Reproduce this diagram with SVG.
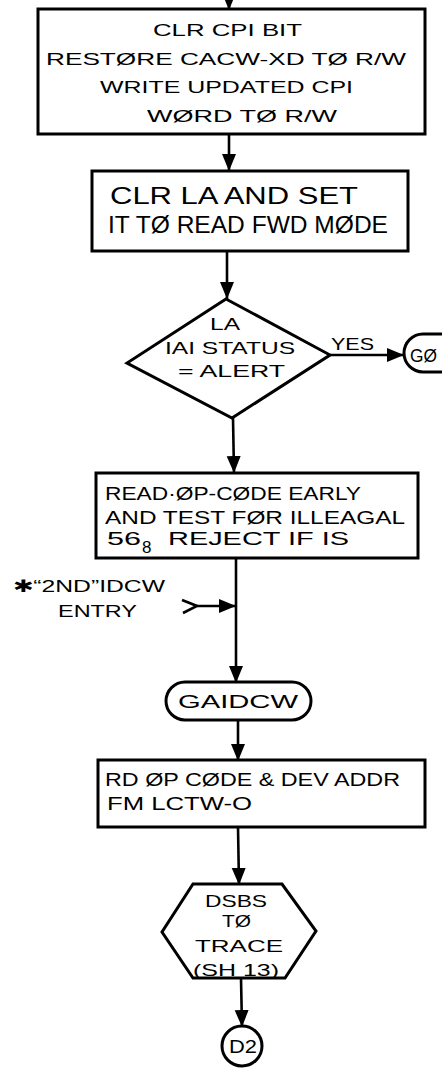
<svg xmlns="http://www.w3.org/2000/svg" width="442" height="1078" viewBox="0 0 442 1078">
<defs>
<marker id="ah" markerUnits="userSpaceOnUse" markerWidth="18" markerHeight="16" refX="17" refY="7" orient="auto">
<path d="M0,0 L17,7 L0,14 z" fill="#000"/>
</marker>
<style>
.box{fill:#fff;stroke:#000;stroke-width:3}
.ln{fill:none;stroke:#000;stroke-width:2.6}
text{font-family:"Liberation Sans",Arial,sans-serif;fill:#000}
.t{font-size:17px}
.tb{font-size:23px}
.tm{font-size:19px}
</style>
</defs>
<rect width="442" height="1078" fill="#fff"/>
<g id="connectors">
<path class="ln" d="M229,-10 L229,10" marker-end="url(#ah)"/>
<path class="ln" d="M229,134 L229,171" marker-end="url(#ah)"/>
<path class="ln" d="M227,251 L227,299" marker-end="url(#ah)"/>
<path class="ln" d="M330,355 L404,355" marker-end="url(#ah)"/>
<path class="ln" d="M233,418 L234,473" marker-end="url(#ah)"/>
<path class="ln" d="M236,558 L236,683" marker-end="url(#ah)"/>
<path class="ln" d="M182,600 L197,606 L183,613"/>
<path class="ln" d="M197,606 L236,606" marker-end="url(#ah)"/>
<path class="ln" d="M238,720 L238,761" marker-end="url(#ah)"/>
<path class="ln" d="M238,827 L239,885" marker-end="url(#ah)"/>
<path class="ln" d="M241,978 L242,1027" marker-end="url(#ah)"/>
<text class="t" x="331" y="350" textLength="43" lengthAdjust="spacingAndGlyphs">YES</text>
</g>
<g id="n1">
<rect class="box" x="38" y="9" width="387" height="125"/>
<text class="t" x="153" y="36" textLength="149" lengthAdjust="spacingAndGlyphs">CLR CPI BIT</text>
<text class="t" x="46" y="65" textLength="360" lengthAdjust="spacingAndGlyphs">RESTØRE CACW-XD TØ R/W</text>
<text class="t" x="100" y="93" textLength="253" lengthAdjust="spacingAndGlyphs">WRITE UPDATED CPI</text>
<text class="t" x="147" y="122" textLength="190" lengthAdjust="spacingAndGlyphs">WØRD TØ R/W</text>
</g>
<g id="n2">
<rect class="box" x="92" y="171" width="316" height="80"/>
<text class="tb" x="110" y="204" textLength="248" lengthAdjust="spacingAndGlyphs">CLR LA AND SET</text>
<text class="tb" x="108" y="233" textLength="280" lengthAdjust="spacingAndGlyphs">IT TØ READ FWD MØDE</text>
</g>
<g id="n3">
<polygon class="box" points="226,299 330,355 232,418 127,363"/>
<text class="t" x="210" y="330" textLength="30" lengthAdjust="spacingAndGlyphs">LA</text>
<text class="t" x="165" y="354" textLength="130" lengthAdjust="spacingAndGlyphs">IAI STATUS</text>
<text class="t" x="178" y="377" textLength="107" lengthAdjust="spacingAndGlyphs">= ALERT</text>
</g>
<g id="n4">
<rect class="box" x="404" y="334" width="70" height="38" rx="19"/>
<text class="tm" x="410" y="362" textLength="27" lengthAdjust="spacingAndGlyphs">GØ</text>
</g>
<g id="n5">
<rect class="box" x="96" y="473" width="322" height="85"/>
<text class="tm" x="105" y="500" textLength="256" lengthAdjust="spacingAndGlyphs">READ·ØP-CØDE EARLY</text>
<text class="tm" x="105" y="524" textLength="300" lengthAdjust="spacingAndGlyphs">AND TEST FØR ILLEAGAL</text>
<text class="tm" x="107" y="545" textLength="34" lengthAdjust="spacingAndGlyphs">56</text>
<text class="t" x="142" y="553" font-size="13">8</text>
<text class="tm" x="168" y="545" textLength="181" lengthAdjust="spacingAndGlyphs">REJECT IF IS</text>
</g>
<g id="entry">
<text class="t" x="13" y="592" textLength="152" lengthAdjust="spacingAndGlyphs">✱“2ND”IDCW</text>
<text class="t" x="58" y="617" textLength="79" lengthAdjust="spacingAndGlyphs">ENTRY</text>
</g>
<g id="n6">
<rect class="box" x="166" y="682" width="145" height="38" rx="19"/>
<text class="tm" x="178" y="708" textLength="120" lengthAdjust="spacingAndGlyphs">GAIDCW</text>
</g>
<g id="n7">
<rect class="box" x="98" y="760" width="327" height="67"/>
<text class="tm" x="105" y="786" textLength="295" lengthAdjust="spacingAndGlyphs">RD ØP CØDE &amp; DEV ADDR</text>
<text class="tm" x="107" y="810" textLength="145" lengthAdjust="spacingAndGlyphs">FM LCTW-O</text>
</g>
<g id="n8">
<polygon class="box" points="193,884 282,884 316,931 285,978 193,978 162,932"/>
<text class="t" x="205" y="907" textLength="62" lengthAdjust="spacingAndGlyphs">DSBS</text>
<text class="t" x="222" y="927" textLength="29" lengthAdjust="spacingAndGlyphs">TØ</text>
<text class="t" x="195" y="952" textLength="88" lengthAdjust="spacingAndGlyphs">TRACE</text>
<text class="t" x="193" y="976" textLength="86" lengthAdjust="spacingAndGlyphs">(SH 13)</text>
</g>
<g id="n9">
<circle class="box" cx="242" cy="1046" r="20"/>
<text class="tm" x="229" y="1053" textLength="28" lengthAdjust="spacingAndGlyphs">D2</text>
</g>
</svg>
